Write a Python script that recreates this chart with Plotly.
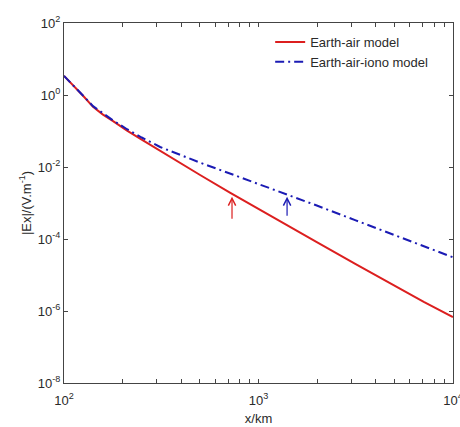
import math
import plotly.graph_objects as go

# distance (km)
x_km = [100, 112, 126, 141, 158, 178, 211, 251, 312, 398, 501, 713,
        1000, 1403, 1995, 3162, 5012, 7079, 10000]
# |Ex| (V/m), Earth-air model
ex_earth_air = [3.4, 1.85, 0.92, 0.47, 0.29, 0.19, 0.102, 0.058, 0.028, 0.0129,
                0.0060, 0.00195, 6.8e-4, 2.4e-4, 8.2e-5, 2.0e-5, 5.0e-6, 1.8e-6, 6.8e-7]
# |Ex| (V/m), Earth-air-iono model
ex_earth_air_iono = [3.4, 1.85, 0.93, 0.49, 0.31, 0.20, 0.112, 0.066, 0.036, 0.021,
                     0.0132, 0.0066, 0.0034, 1.74e-3, 8.5e-4, 3.3e-4, 1.29e-4, 6.3e-5, 3.1e-5]

series_names = ["Earth-air model", "Earth-air-iono model"]

# arrow markers: x (km), tip y, tail y
arrow_x = [731, 1403]
arrow_tip = [1.5e-3, 1.5e-3]
arrow_tail = [3.3e-4, 4.0e-4]

x_tick_vals = [100, 200, 300, 400, 500, 600, 700, 800, 900,
               1000, 2000, 3000, 4000, 5000, 6000, 7000, 8000, 9000, 10000]
x_tick_text = ["10<sup>2</sup>", "", "", "", "", "", "", "", "",
               "10<sup>3</sup>", "", "", "", "", "", "", "", "", "10<sup>4</sup>"]
y_tick_vals = [1e-8, 1e-6, 1e-4, 1e-2, 1, 100]
y_tick_text = ["10<sup>-8</sup>", "10<sup>-6</sup>", "10<sup>-4</sup>",
               "10<sup>-2</sup>", "10<sup>0</sup>", "10<sup>2</sup>"]

RED = "#dc1f1f"
BLUE = "#1b1bb4"
TXT = "#2a2a2a"

fig = go.Figure()
fig.add_trace(go.Scatter(x=x_km, y=ex_earth_air, mode="lines", name=series_names[0],
                         line=dict(color=RED, width=2)))
fig.add_trace(go.Scatter(x=x_km, y=ex_earth_air_iono, mode="lines", name=series_names[1],
                         line=dict(color=BLUE, width=2, dash="9px,4px,2px,4px")))

for xa, yt, yb, col in zip(arrow_x, arrow_tip, arrow_tail, [RED, BLUE]):
    fig.add_annotation(x=math.log10(xa), y=math.log10(yt), ax=math.log10(xa), ay=math.log10(yb),
                       xref="x", yref="y", axref="x", ayref="y", text="",
                       showarrow=True, arrowhead=5, arrowsize=1.2, arrowwidth=1.2,
                       arrowcolor=col)

axis_common = dict(showline=True, linecolor="#444444", linewidth=1, mirror="ticks",
                   ticks="inside", ticklen=4, tickcolor="#444444", showgrid=False,
                   zeroline=False, ticklabeloverflow="allow", automargin=False,
                   tickfont=dict(family="Arial", size=13, color=TXT))

fig.update_xaxes(type="log", range=[2, 4.0003], tickmode="array", tickvals=x_tick_vals,
                 ticktext=x_tick_text, ticklabelstandoff=5,
                 title=dict(text="x/km", font=dict(family="Arial", size=13, color=TXT), standoff=7),
                 **axis_common)
fig.update_yaxes(type="log", range=[-8, 2], tickmode="array", tickvals=y_tick_vals,
                 ticktext=y_tick_text,
                 title=dict(text="|Ex|/(V.m<sup>-1</sup>)", font=dict(family="Arial", size=13, color=TXT), standoff=3),
                 **axis_common)

fig.update_layout(
    width=460, height=427,
    margin=dict(l=64, r=7, t=23, b=44),
    paper_bgcolor="white", plot_bgcolor="white",
    showlegend=True,
    legend=dict(x=0.53, y=0.989, xanchor="left", yanchor="top", tracegroupgap=0,
                bgcolor="rgba(255,255,255,0)", borderwidth=0,
                font=dict(family="Arial", size=13, color=TXT)),
)

fig.write_html("out.html", config={"displayModeBar": False},
               post_script="document.body.style.margin='0';")
